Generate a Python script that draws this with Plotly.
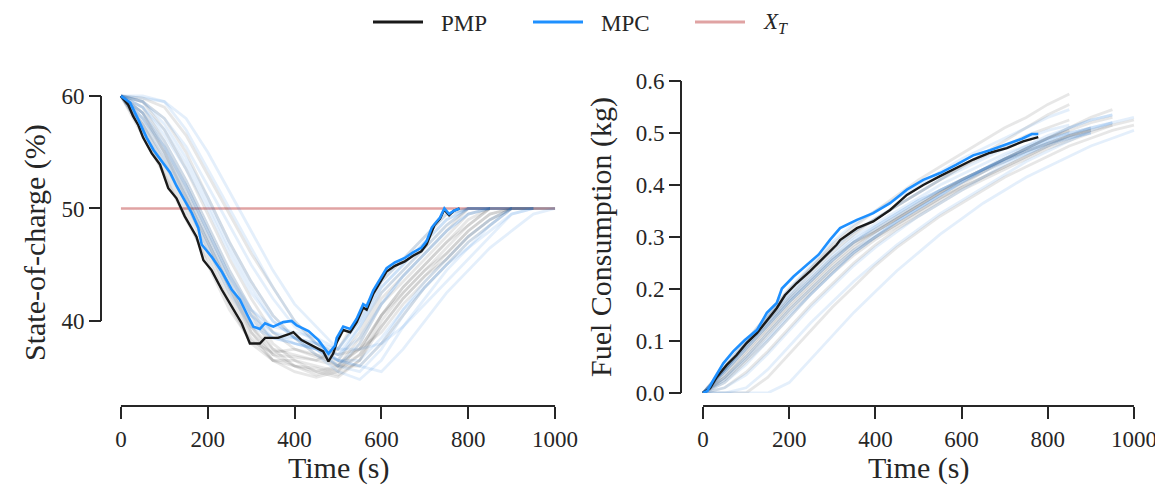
import plotly.graph_objects as go

# ---- data ----
# shared time grid for the faint runs (s)
T_GRID = [0, 50, 100, 150, 200, 250, 300, 350, 400, 450, 500,
          550, 600, 650, 700, 750, 800, 850, 900, 950, 1000]

# PMP reference trajectory
pmp_t = [0, 17, 28, 40, 51, 71, 90, 109, 128, 147, 174, 190, 209, 232, 255, 278,
         297, 320, 332, 362, 385, 397, 416, 447, 466, 478, 489, 497, 512, 528, 543,
         558, 566, 581, 597, 612, 631, 654, 673, 692, 704, 716, 722, 735, 745, 756,
         767, 780]
pmp_soc = [60.0, 59.2, 58.2, 57.4, 56.3, 54.9, 53.9, 51.8, 50.9, 49.3, 47.5, 45.4,
           44.5, 42.8, 41.3, 39.8, 38.0, 38.0, 38.5, 38.5, 38.8, 39.0, 38.3, 37.7,
           37.3, 36.4, 37.1, 38.1, 39.2, 39.0, 39.9, 41.2, 41.0, 42.4, 43.5, 44.4,
           44.9, 45.3, 45.8, 46.2, 46.8, 48.0, 48.5, 49.1, 49.9, 49.4, 49.8, 50.0]

# MPC trajectory
mpc_t = [0, 21, 40, 59, 75, 94, 113, 128, 140, 151, 163, 178, 186, 209, 232, 255,
         274, 293, 305, 320, 332, 351, 374, 393, 405, 432, 455, 478, 493, 497, 512,
         528, 543, 558, 566, 581, 597, 612, 631, 654, 673, 692, 704, 716, 722, 735,
         745, 756, 767, 780]
mpc_soc = [60.0, 59.4, 57.9, 56.3, 55.2, 54.2, 53.2, 52.0, 51.2, 50.4, 49.6, 48.3,
           46.8, 45.7, 44.4, 42.8, 41.9, 40.4, 39.5, 39.3, 39.8, 39.5, 39.9, 40.0,
           39.6, 39.1, 38.3, 37.1, 37.8, 38.5, 39.5, 39.3, 40.2, 41.5, 41.3, 42.7,
           43.8, 44.7, 45.2, 45.6, 46.1, 46.5, 47.1, 48.3, 48.6, 49.2, 50.0, 49.5,
           49.8, 50.0]

pmp_fuel_t = [0, 16, 32, 55, 78, 101, 125, 148, 171, 190, 217, 248, 279, 310, 318,
              357, 395, 434, 473, 511, 550, 588, 627, 666, 705, 743, 759, 778]
pmp_fuel = [0.0, 0.009, 0.031, 0.054, 0.073, 0.096, 0.115, 0.138, 0.163, 0.188,
            0.211, 0.234, 0.259, 0.285, 0.294, 0.317, 0.330, 0.352, 0.381, 0.400,
            0.417, 0.433, 0.449, 0.462, 0.471, 0.484, 0.487, 0.492]

mpc_fuel_t = [0, 10, 24, 47, 70, 97, 125, 148, 171, 183, 210, 241, 268, 295, 318,
              357, 395, 434, 473, 511, 550, 588, 627, 666, 705, 740, 763, 778]
mpc_fuel = [0.0, 0.004, 0.025, 0.057, 0.080, 0.102, 0.121, 0.154, 0.173, 0.201,
            0.224, 0.246, 0.266, 0.295, 0.317, 0.333, 0.346, 0.365, 0.391, 0.410,
            0.423, 0.439, 0.457, 0.467, 0.478, 0.489, 0.498, 0.498]

X_T = 50.0
xt_t = [0, 1000]

# faint Monte-Carlo runs, sampled on T_GRID (each run stops when its list ends)
pmp_runs_soc = [
    [60, 56.5, 53, 49.5, 45, 41, 38.2, 37.2, 37.5, 37, 36.5, 39, 42.5, 44.5, 46.5, 48.5, 50, 50],
    [60, 58.5, 55, 51.5, 47.5, 43.5, 39.5, 37, 36, 35.8, 35.2, 36.5, 40, 42.5, 44.5, 46.5, 48.5, 50, 50],
    [60, 57.5, 54, 50.5, 46.5, 42.5, 39, 36.5, 35.5, 35, 35.5, 38, 41.5, 43.5, 45.5, 47.5, 49.5, 50],
    [60, 59.5, 57, 53.5, 49.5, 45.5, 42, 39, 37.5, 36.8, 36.2, 37.5, 40.5, 42.5, 44.5, 46, 48, 49.5, 50, 50],
    [60, 59.8, 59, 56.5, 53, 49.5, 46, 43, 40, 38, 37, 37.5, 39, 41.5, 43.5, 45.5, 47.5, 49, 50, 50, 50],
    [60, 57, 53.5, 50, 46, 42, 38.5, 36.5, 36, 35.5, 36, 38.5, 42, 44, 46, 48, 50, 50],
    [60, 58, 55, 51, 47, 43, 39.5, 37.5, 37, 36.5, 36, 37.5, 40.5, 43, 45, 47, 48.5, 50, 50],
    [60, 59, 56, 52.5, 48.5, 44.5, 41, 38, 36.5, 35.5, 35, 36.5, 39.5, 42, 44, 45.5, 47.5, 49, 50, 50],
    [60, 57, 53, 49, 45.5, 41.5, 38, 36.5, 36.5, 36, 35.5, 37, 40.5, 43, 45, 47, 49, 50, 50],
    [60, 58.5, 55.5, 52, 48, 44, 40.5, 37.5, 36, 35.2, 35.8, 37, 39.5, 42, 44, 46, 48, 49.5, 50, 50],
    [60, 57.5, 54.5, 51, 47, 43, 39, 37, 36.8, 36.5, 37.5, 40.5, 43.5, 45.5, 47.5, 49.5, 50, 50],
    [60, 59.5, 58, 55, 51, 47, 43.5, 40.5, 38.5, 37, 36, 36, 38, 40.5, 43, 45, 47, 48.5, 50, 50, 50],
]
mpc_runs_soc = [
    [60, 57.5, 54.5, 51, 47, 43, 40, 38.5, 38, 37.5, 36.5, 39.5, 43, 45, 47, 49, 50, 50],
    [60, 59.8, 59.5, 58, 55, 51.5, 48, 44.5, 41.5, 39.5, 37.5, 37.5, 38, 39.5, 41.5, 43.5, 45.5, 47.5, 49.5, 50, 50],
    [60, 60, 59.5, 57, 53.5, 50, 46.5, 43, 40, 38, 36.5, 36, 35.5, 37.5, 40, 42.5, 44.5, 46.5, 48, 49.5, 50],
    [60, 58.5, 56, 52.5, 48.5, 44.5, 41, 39, 38, 37.5, 37, 38.5, 41.5, 44, 46, 48, 49.5, 50, 50],
    [60, 59, 56.5, 53.5, 50, 46, 42.5, 40, 38.5, 37, 35.5, 34.8, 36.5, 39.5, 42, 44.5, 46.5, 48.5, 50, 50],
    [60, 58, 55, 51.5, 47.5, 43.5, 40.5, 39, 38.5, 38, 37, 39.5, 42.5, 44.5, 46.5, 48.5, 50, 50],
    [60, 59.5, 57.5, 54.5, 51, 47, 43.5, 40.5, 38.5, 37.5, 36.5, 36, 38, 41, 43.5, 45.5, 47.5, 49, 50, 50],
    [60, 57, 54, 50.5, 46.5, 42.5, 39.5, 38.5, 38.5, 38, 37.5, 40, 43, 45, 47, 49, 50, 50, 50],
    [60, 58, 55.5, 52, 48, 44, 41, 39.5, 39, 38.5, 37.5, 40, 43.5, 45.5, 47.5, 49.5, 50, 50],
    [60, 59.5, 58, 55.5, 52, 48.5, 45, 42, 39.5, 38, 36.5, 36.5, 38.5, 41, 43, 45, 46.5, 48, 49.5, 50],
    [60, 58.5, 55.5, 52, 48, 44, 40.5, 38.5, 38, 37.5, 36, 38, 41.5, 44, 46, 48, 49.5, 50, 50],
    [60, 59, 57, 54, 50.5, 46.5, 43, 40, 38.5, 37.5, 36, 35.5, 37.5, 40.5, 43, 45, 47, 48.5, 50, 50],
]
pmp_runs_fuel = [
    [0, 0.045, 0.09, 0.135, 0.18, 0.22, 0.26, 0.29, 0.31, 0.335, 0.36, 0.385, 0.41, 0.43, 0.45, 0.47, 0.49, 0.505],
    [0, 0.03, 0.07, 0.115, 0.16, 0.2, 0.24, 0.275, 0.3, 0.325, 0.35, 0.375, 0.395, 0.415, 0.435, 0.455, 0.475, 0.495, 0.51],
    [0, 0.05, 0.1, 0.15, 0.2, 0.24, 0.28, 0.31, 0.335, 0.36, 0.385, 0.41, 0.435, 0.46, 0.485, 0.51, 0.535, 0.555],
    [0, 0.02, 0.06, 0.1, 0.145, 0.19, 0.23, 0.265, 0.295, 0.32, 0.345, 0.37, 0.395, 0.415, 0.435, 0.455, 0.475, 0.49, 0.505, 0.515],
    [0, 0, 0, 0.03, 0.075, 0.12, 0.165, 0.205, 0.245, 0.28, 0.31, 0.34, 0.365, 0.39, 0.415, 0.435, 0.455, 0.475, 0.49, 0.505, 0.515],
    [0, 0.045, 0.095, 0.145, 0.195, 0.24, 0.285, 0.32, 0.35, 0.38, 0.41, 0.435, 0.46, 0.485, 0.51, 0.53, 0.555, 0.575],
    [0, 0.035, 0.08, 0.125, 0.17, 0.21, 0.25, 0.285, 0.31, 0.335, 0.36, 0.385, 0.405, 0.425, 0.445, 0.465, 0.48, 0.495, 0.505],
    [0, 0.025, 0.065, 0.11, 0.155, 0.195, 0.235, 0.27, 0.3, 0.325, 0.35, 0.375, 0.4, 0.425, 0.45, 0.47, 0.49, 0.51, 0.53, 0.545],
    [0, 0.04, 0.085, 0.13, 0.175, 0.215, 0.255, 0.29, 0.315, 0.34, 0.365, 0.39, 0.41, 0.43, 0.45, 0.465, 0.48, 0.495, 0.505],
    [0, 0.03, 0.075, 0.12, 0.165, 0.205, 0.245, 0.28, 0.31, 0.335, 0.36, 0.385, 0.41, 0.43, 0.45, 0.47, 0.49, 0.505, 0.52, 0.53],
    [0, 0.045, 0.095, 0.14, 0.185, 0.23, 0.27, 0.305, 0.335, 0.36, 0.385, 0.41, 0.435, 0.455, 0.475, 0.495, 0.51, 0.525],
    [0, 0.01, 0.04, 0.08, 0.125, 0.17, 0.21, 0.25, 0.285, 0.315, 0.34, 0.365, 0.39, 0.41, 0.43, 0.45, 0.47, 0.485, 0.5, 0.515, 0.525],
]
mpc_runs_fuel = [
    [0, 0.045, 0.095, 0.14, 0.185, 0.225, 0.265, 0.3, 0.325, 0.35, 0.375, 0.4, 0.42, 0.44, 0.46, 0.475, 0.49, 0.5],
    [0, 0, 0, 0, 0.02, 0.065, 0.11, 0.155, 0.195, 0.235, 0.27, 0.305, 0.335, 0.365, 0.39, 0.415, 0.435, 0.455, 0.475, 0.49, 0.505],
    [0, 0, 0.01, 0.045, 0.09, 0.135, 0.175, 0.215, 0.25, 0.285, 0.315, 0.345, 0.37, 0.395, 0.42, 0.445, 0.465, 0.485, 0.505, 0.52, 0.53],
    [0, 0.04, 0.085, 0.13, 0.175, 0.215, 0.255, 0.29, 0.315, 0.34, 0.365, 0.39, 0.41, 0.43, 0.45, 0.47, 0.485, 0.5, 0.51],
    [0, 0.03, 0.07, 0.115, 0.16, 0.2, 0.24, 0.275, 0.305, 0.33, 0.355, 0.38, 0.405, 0.43, 0.45, 0.47, 0.49, 0.51, 0.525, 0.535],
    [0, 0.05, 0.1, 0.15, 0.2, 0.245, 0.29, 0.325, 0.35, 0.375, 0.4, 0.425, 0.45, 0.47, 0.49, 0.51, 0.53, 0.545],
    [0, 0.02, 0.055, 0.1, 0.145, 0.19, 0.23, 0.27, 0.3, 0.33, 0.355, 0.38, 0.405, 0.425, 0.445, 0.465, 0.485, 0.5, 0.51, 0.52],
    [0, 0.045, 0.09, 0.135, 0.18, 0.22, 0.26, 0.295, 0.32, 0.345, 0.37, 0.39, 0.41, 0.43, 0.45, 0.465, 0.48, 0.49, 0.5],
    [0, 0.045, 0.095, 0.145, 0.19, 0.235, 0.275, 0.31, 0.335, 0.36, 0.385, 0.41, 0.43, 0.45, 0.47, 0.49, 0.505, 0.515],
    [0, 0.01, 0.035, 0.075, 0.12, 0.165, 0.205, 0.245, 0.28, 0.31, 0.34, 0.365, 0.39, 0.415, 0.44, 0.46, 0.48, 0.495, 0.51, 0.52],
    [0, 0.04, 0.085, 0.13, 0.175, 0.215, 0.255, 0.29, 0.32, 0.345, 0.37, 0.39, 0.41, 0.43, 0.445, 0.46, 0.475, 0.49, 0.5],
    [0, 0.025, 0.065, 0.105, 0.15, 0.19, 0.23, 0.27, 0.3, 0.33, 0.355, 0.38, 0.405, 0.43, 0.455, 0.475, 0.495, 0.51, 0.525, 0.535],
]

X_TICKS = [0, 200, 400, 600, 800, 1000]
SOC_TICKS = [40, 50, 60]
FUEL_TICKS = [0.0, 0.1, 0.2, 0.3, 0.4, 0.5, 0.6]

# ---- styling / layout ----
# the page body keeps its default 8px margin, so the figure is 8px smaller
# than the 1163x489 window and window pixels are shifted by PAD
WIN_W, WIN_H, PAD = 1163, 489, 8
W, H = WIN_W - PAD, WIN_H - PAD
FONT = "Liberation Serif"
INK = "#262626"
BLACK = "#1a1a1a"
BLUE = "#1E90FF"
RED = "#e0a3a3"
FAINT_GRAY = "rgba(60,60,60,0.12)"
FAINT_BLUE = "rgba(30,120,220,0.12)"


def fx(p):
    return (p - PAD) / W


def fy(p):
    return 1 - (p - PAD) / H


fig = go.Figure()

# target SOC line
fig.add_trace(go.Scatter(x=xt_t, y=[X_T, X_T], mode="lines", name="X_T",
                         line=dict(color=RED, width=2.5), xaxis="x", yaxis="y"))

# faint runs
for runs, axes, color in [(pmp_runs_soc, ("x", "y"), FAINT_GRAY),
                          (mpc_runs_soc, ("x", "y"), FAINT_BLUE),
                          (pmp_runs_fuel, ("x2", "y2"), FAINT_GRAY),
                          (mpc_runs_fuel, ("x2", "y2"), FAINT_BLUE)]:
    for run in runs:
        fig.add_trace(go.Scatter(x=T_GRID[:len(run)], y=run, mode="lines",
                                 line=dict(color=color, width=2.8), hoverinfo="skip",
                                 xaxis=axes[0], yaxis=axes[1]))

# main trajectories
fig.add_trace(go.Scatter(x=pmp_t, y=pmp_soc, mode="lines", name="PMP",
                         line=dict(color=BLACK, width=2.4), xaxis="x", yaxis="y"))
fig.add_trace(go.Scatter(x=mpc_t, y=mpc_soc, mode="lines", name="MPC",
                         line=dict(color=BLUE, width=2.6), xaxis="x", yaxis="y"))
fig.add_trace(go.Scatter(x=pmp_fuel_t, y=pmp_fuel, mode="lines", name="PMP",
                         line=dict(color=BLACK, width=2.4), xaxis="x2", yaxis="y2"))
fig.add_trace(go.Scatter(x=mpc_fuel_t, y=mpc_fuel, mode="lines", name="MPC",
                         line=dict(color=BLUE, width=2.6), xaxis="x2", yaxis="y2"))

tick_font = dict(family=FONT, size=23, color=INK)
common_x = dict(anchor="free", position=fy(406), showline=False, showgrid=False, zeroline=False,
                ticks="outside", ticklen=12, tickwidth=2, tickcolor=INK, tickvals=X_TICKS,
                tickfont=tick_font)
common_y = dict(anchor="free", showline=False, showgrid=False, zeroline=False,
                ticks="outside", ticklen=12, tickwidth=2, tickcolor=INK, tickfont=tick_font,
                domain=[fy(393), fy(81)])

fig.update_layout(
    width=W, height=H,
    margin=dict(l=0, r=0, t=0, b=0, autoexpand=False),
    paper_bgcolor="white", plot_bgcolor="white",
    font=dict(family=FONT, color=INK),
    xaxis=dict(domain=[fx(114), fx(562)], range=[-16, 1016], **common_x),
    yaxis=dict(position=fx(101), range=[33.6, 61.33], tickvals=SOC_TICKS, **common_y),
    xaxis2=dict(domain=[fx(694), fx(1143)], range=[-21, 1021], **common_x),
    yaxis2=dict(position=fx(681), range=[0, 0.6], tickvals=FUEL_TICKS, tickformat=".1f", **common_y),
    showlegend=False,
)

# trimmed, offset spines
spine = dict(color=INK, width=2)
fig.add_shape(type="line", xref="x", yref="paper", x0=0, x1=1000, y0=fy(406), y1=fy(406), line=spine)
fig.add_shape(type="line", xref="x2", yref="paper", x0=0, x1=1000, y0=fy(406), y1=fy(406), line=spine)
fig.add_shape(type="line", xref="paper", yref="y", x0=fx(101), x1=fx(101), y0=40, y1=60, line=spine)
fig.add_shape(type="line", xref="paper", yref="y2", x0=fx(681), x1=fx(681), y0=0, y1=0.6, line=spine)

# legend drawn by hand (matplotlib-style long handles)
legend_items = [("PMP", BLACK, 373), ("MPC", BLUE, 533), ("<i>X</i><sub><i>T</i></sub>", RED, 695)]
for label, color, x0 in legend_items:
    fig.add_shape(type="line", xref="paper", yref="paper", x0=fx(x0), x1=fx(x0 + 50),
                  y0=fy(22), y1=fy(22), line=dict(color=color, width=3))
    fig.add_annotation(text=label, xref="paper", yref="paper", x=fx(x0 + 66), y=fy(23),
                       xanchor="left", yanchor="middle", showarrow=False,
                       font=dict(family=FONT, size=23, color=INK))

# axis titles
title_font = dict(family=FONT, size=30, color=INK)
fig.add_annotation(text="Time (s)", xref="x", yref="paper", x=500, y=fy(468), showarrow=False,
                   font=title_font, xanchor="center", yanchor="middle")
fig.add_annotation(text="Time (s)", xref="x2", yref="paper", x=500, y=fy(468), showarrow=False,
                   font=title_font, xanchor="center", yanchor="middle")
fig.add_annotation(text="State-of-charge (%)", xref="paper", yref="paper", x=fx(35), y=fy(243),
                   textangle=-90, showarrow=False, font=title_font,
                   xanchor="center", yanchor="middle")
fig.add_annotation(text="Fuel Consumption (kg)", xref="paper", yref="paper", x=fx(601), y=fy(237),
                   textangle=-90, showarrow=False, font=title_font,
                   xanchor="center", yanchor="middle")

fig.write_html("out.html")
